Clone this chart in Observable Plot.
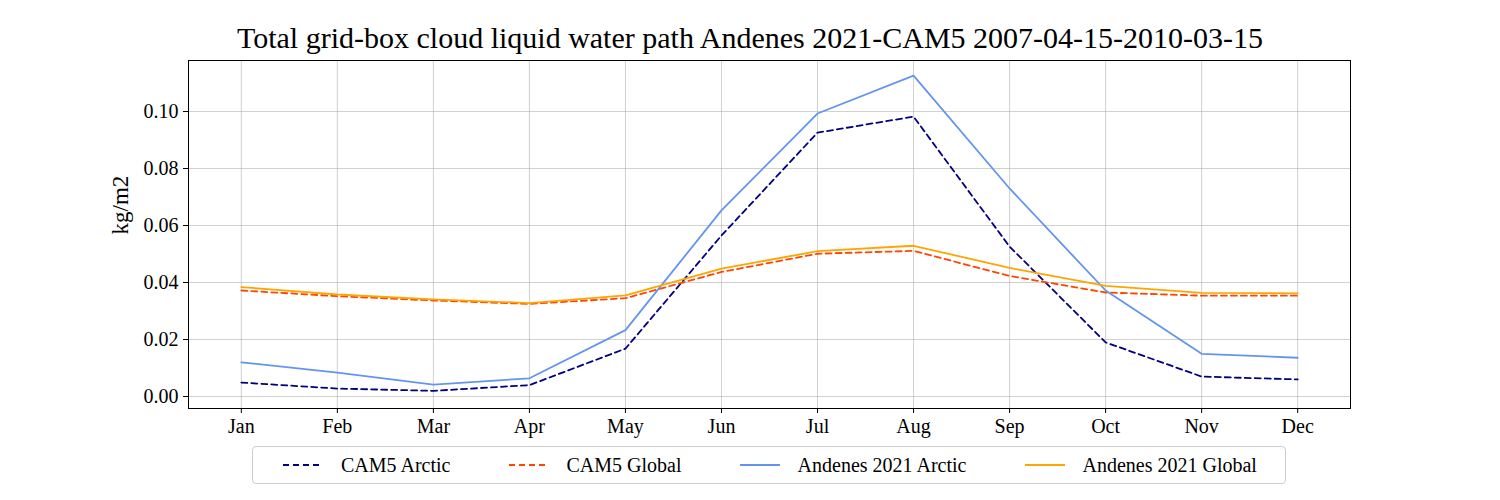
<!DOCTYPE html>
<html><head><meta charset="utf-8">
<script src="https://cdn.jsdelivr.net/npm/d3@7"></script>
<script src="https://cdn.jsdelivr.net/npm/@observablehq/plot@0.6"></script>
<style>
body{margin:0;background:#fff;font-family:"Liberation Serif",serif;}
#title{width:1500px;text-align:center;font-size:30px;padding-top:24px;height:28px;line-height:28px;}
#legend{margin:4px 0 0 252px;width:1034px;height:38px;border:1px solid #ccc;border-radius:4px;display:flex;align-items:center;justify-content:space-around;font-size:20px;box-sizing:border-box;}
#legend span{display:flex;align-items:center;gap:16px;}
</style></head><body>
<div id="title">Total grid-box cloud liquid water path Andenes 2021-CAM5 2007-04-15-2010-03-15</div>
<div id="chart"></div>
<div id="legend"></div>
<script>
const months = ['Jan','Feb','Mar','Apr','May','Jun','Jul','Aug','Sep','Oct','Nov','Dec']
const cam5Arctic = [0.0049,0.0028,0.0020,0.0040,0.0168,0.0565,0.0926,0.0982,0.0526,0.0190,0.0070,0.0060]
const cam5Global = [0.0372,0.0352,0.0337,0.0325,0.0345,0.0437,0.0501,0.0511,0.0423,0.0365,0.0354,0.0354]
const andArctic = [0.0120,0.0084,0.0042,0.0064,0.0233,0.0653,0.0993,0.1126,0.0730,0.0372,0.0150,0.0136]
const andGlobal = [0.0384,0.0358,0.0341,0.0328,0.0355,0.0449,0.0510,0.0529,0.0451,0.0388,0.0364,0.0362]

const series = [
  {name:'CAM5 Arctic', values:cam5Arctic, color:'#000080', dash:'6,4'},
  {name:'CAM5 Global', values:cam5Global, color:'#ff4500', dash:'6,4'},
  {name:'Andenes 2021 Arctic', values:andArctic, color:'#6495ed', dash:null},
  {name:'Andenes 2021 Global', values:andGlobal, color:'#ffa500', dash:null},
]

const marks = [
  Plot.gridX(d3.range(12), {stroke:'#b0b0b0', strokeOpacity:0.6}),
  Plot.gridY([0,0.02,0.04,0.06,0.08,0.10], {stroke:'#b0b0b0', strokeOpacity:0.6}),
  Plot.axisX(d3.range(12), {tickFormat: i => months[i], tickSize:5, fontSize:20, tickPadding:5, label:null}),
  Plot.axisY([0,0.02,0.04,0.06,0.08,0.10], {tickFormat: d3.format('.2f'), tickSize:5, fontSize:20, tickPadding:5, label:null}),
  Plot.frame({stroke:'#000'})
]
series.forEach(s => {
  marks.push(Plot.line(s.values.map((v,i) => ({m:i, v})), {x:'m', y:'v', stroke:s.color, strokeWidth:1.8, strokeDasharray:s.dash}))
})
marks.push(Plot.text(['kg/m2'], {frameAnchor:'left', dx:-68, rotate:-90, fontSize:23}))

const chart = Plot.plot({
  width:1500, height:390,
  marginLeft:188, marginRight:150, marginTop:8, marginBottom:34,
  style:{fontFamily:'"Liberation Serif", serif', fontSize:'20px', color:'#000', overflow:'visible'},
  x:{domain:[-0.55,11.55]},
  y:{domain:[-0.0042,0.1179]},
  marks
})
d3.select('#chart').append(() => chart)

const lg = d3.select('#legend')
series.forEach(s => {
  const sp = lg.append('span')
  const sv = sp.append('svg').attr('width',44).attr('height',10)
  sv.append('line').attr('x1',2).attr('x2',42).attr('y1',5).attr('y2',5)
    .attr('stroke',s.color).attr('stroke-width',2).attr('stroke-dasharray',s.dash)
  sp.append('text').text(s.name)
})
</script>
</body></html>
